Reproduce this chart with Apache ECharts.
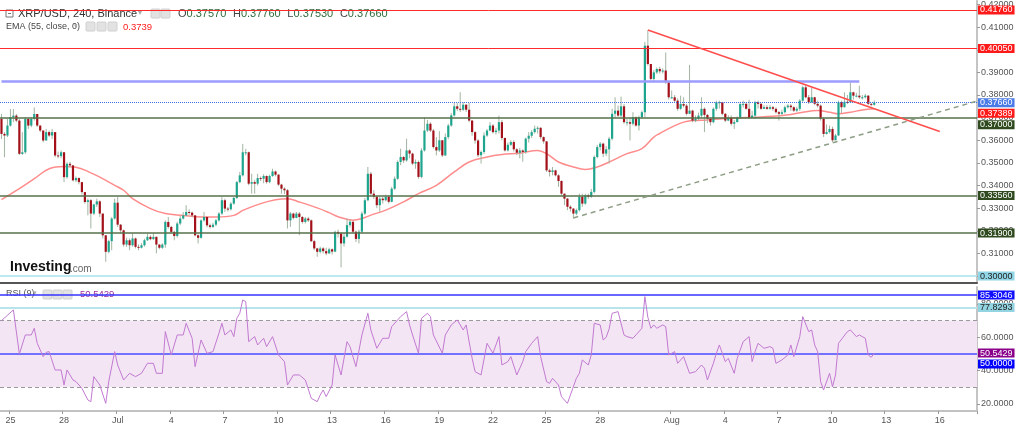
<!DOCTYPE html>
<html><head><meta charset="utf-8">
<script src="https://cdn.jsdelivr.net/npm/echarts/dist/echarts.min.js"></script>
<style>html,body{margin:0;padding:0;background:#fff}#c{width:1024px;height:427px}</style>
</head><body><div id="c"></div>
<script>
// ---- data (prices in units of 0.0001 USD) ----
const firstOpen = 3694;
const closes = [3628,3621,3665,3702,3709,3687,3540,3547,3694,3665,3694,3716,3665,3643,3599,3636,3621,3636,3533,3530,
3547,3437,3496,3489,3423,3433,3415,3371,3327,3335,3276,3316,3330,3276,3180,3107,3154,3254,3324,3227,
3202,3139,3158,3136,3166,3129,3125,3136,3158,3173,3163,3173,3139,3125,3139,3239,3217,3195,3177,3232,
3254,3268,3283,3280,3268,3180,3169,3246,3261,3224,3217,3227,3246,3276,3335,3298,3295,3320,3345,3415,
3445,3547,3547,3408,3415,3408,3433,3430,3442,3415,3442,3462,3448,3404,3386,3379,3246,3276,3257,3276,
3261,3239,3254,3246,3154,3122,3107,3122,3110,3100,3118,3108,3195,3188,3144,3174,3225,3240,3196,3164,
3196,3276,3335,3452,3364,3350,3313,3342,3335,3350,3328,3386,3430,3504,3526,3511,3555,3541,3497,3504,
3438,3555,3643,3673,3643,3570,3555,3600,3533,3614,3665,3710,3750,3739,3735,3757,3735,3687,3636,3599,
3534,3548,3621,3643,3665,3636,3643,3680,3610,3555,3580,3592,3560,3545,3555,3548,3607,3620,3636,3651,
3655,3614,3595,3467,3460,3467,3445,3420,3364,3342,3306,3298,3276,3291,3350,3320,3357,3350,3372,3526,
3570,3585,3541,3560,3607,3717,3731,3709,3750,3680,3680,3673,3702,3665,3702,3724,4018,3937,3871,3900,
3915,3905,3908,3856,3790,3790,3775,3739,3760,3753,3717,3731,3687,3695,3709,3739,3712,3695,3680,3739,
3768,3768,3717,3687,3700,3673,3680,3700,3760,3761,3739,3700,3709,3768,3761,3739,3746,3739,3746,3739,
3724,3717,3724,3746,3753,3746,3731,3739,3775,3834,3790,3768,3790,3761,3753,3695,3628,3636,3650,3600,
3621,3768,3746,3770,3768,3812,3797,3797,3790,3790,3797,3761,3757,3766];
const highs = [3716,3636,3694,3738,3738,3716,3694,3636,3702,3700,3702,3745,3716,3665,3643,3650,3643,3650,3636,3550,
3555,3547,3503,3505,3490,3440,3436,3415,3371,3342,3340,3320,3342,3335,3276,3180,3160,3260,3342,3349,
3230,3205,3170,3166,3188,3170,3140,3145,3165,3188,3180,3188,3175,3140,3145,3246,3261,3222,3200,3240,
3265,3283,3313,3295,3285,3270,3185,3250,3283,3262,3232,3235,3252,3283,3349,3342,3305,3327,3350,3420,
3460,3584,3562,3550,3452,3425,3452,3440,3450,3445,3448,3474,3466,3450,3408,3392,3385,3283,3280,3283,
3283,3265,3261,3261,3250,3160,3125,3130,3128,3125,3125,3122,3200,3205,3192,3190,3254,3250,3240,3200,
3205,3285,3345,3482,3460,3380,3355,3350,3350,3360,3357,3394,3440,3511,3563,3530,3607,3560,3545,3515,
3510,3565,3702,3690,3680,3650,3614,3640,3600,3630,3673,3720,3765,3765,3812,3768,3760,3765,3690,3640,
3605,3555,3635,3650,3680,3672,3655,3709,3690,3612,3590,3600,3600,3565,3565,3560,3612,3636,3645,3665,
3662,3658,3617,3597,3474,3482,3470,3450,3423,3364,3345,3313,3300,3298,3364,3364,3364,3364,3385,3533,
3580,3592,3590,3575,3615,3739,3790,3753,3793,3760,3695,3700,3724,3705,3709,3731,4035,4086,3937,3910,
3922,3925,3918,3988,3860,3820,3800,3785,3797,3790,3760,3933,3735,3710,3722,3790,3745,3716,3700,3745,
3775,3775,3770,3720,3710,3710,3690,3705,3770,3775,3768,3779,3730,3775,3775,3765,3755,3755,3755,3752,
3745,3730,3735,3753,3760,3760,3750,3748,3782,3841,3845,3800,3834,3792,3775,3758,3700,3670,3665,3660,
3628,3775,3775,3812,3800,3856,3815,3810,3841,3800,3805,3800,3765,3776];
const lows = [3606,3525,3614,3660,3680,3680,3535,3535,3540,3650,3658,3687,3658,3636,3591,3599,3614,3606,3525,3520,
3520,3415,3430,3480,3418,3415,3405,3360,3320,3268,3210,3270,3305,3261,3166,3063,3100,3114,3250,3217,
3188,3130,3129,3114,3130,3122,3114,3122,3130,3155,3158,3160,3100,3118,3120,3125,3210,3188,3158,3170,
3225,3250,3265,3270,3260,3175,3144,3165,3240,3215,3210,3212,3220,3240,3270,3283,3285,3290,3315,3340,
3410,3440,3533,3401,3364,3364,3400,3420,3410,3408,3410,3438,3440,3398,3364,3362,3210,3217,3250,3255,
3180,3232,3232,3239,3150,3114,3085,3100,3100,3092,3098,3095,3105,3170,3038,3130,3170,3215,3188,3150,
3144,3190,3270,3330,3355,3340,3300,3284,3320,3330,3320,3326,3380,3425,3490,3500,3505,3520,3490,3474,
3430,3432,3550,3636,3636,3563,3533,3548,3526,3530,3605,3660,3705,3730,3725,3730,3725,3680,3620,3585,
3526,3497,3540,3615,3640,3630,3625,3630,3600,3550,3550,3575,3550,3535,3520,3505,3540,3590,3610,3630,
3630,3605,3585,3460,3440,3445,3440,3394,3357,3313,3291,3284,3254,3269,3285,3306,3315,3340,3345,3365,
3520,3555,3526,3530,3497,3600,3700,3702,3700,3673,3665,3599,3665,3660,3643,3695,3702,3930,3865,3860,
3893,3895,3895,3850,3780,3783,3768,3730,3735,3745,3710,3715,3680,3680,3690,3700,3636,3675,3665,3675,
3730,3740,3710,3680,3684,3665,3650,3680,3695,3745,3735,3695,3700,3695,3740,3735,3738,3735,3735,3730,
3718,3687,3710,3718,3740,3730,3725,3725,3730,3770,3785,3760,3765,3755,3745,3687,3614,3625,3630,3592,
3600,3620,3720,3745,3760,3765,3780,3790,3783,3780,3785,3755,3750,3753];
// EMA(55): [candle index, value]
const emaPoints = [[0,3338],[6,3386],[11,3430],[16,3474],[21,3484],[25,3481],[30,3456],[33,3437],[38,3401],[41,3379],
[44,3342],[50,3298],[55,3276],[61,3268],[67,3261],[72,3261],[78,3268],[81,3290],[87,3320],[92,3337],[96,3342],
[100,3327],[106,3301],[110,3280],[113,3262],[118,3247],[121,3254],[124,3269],[129,3291],[135,3328],[140,3364],
[146,3401],[152,3460],[157,3504],[163,3526],[168,3537],[174,3543],[180,3555],[183,3541],[187,3504],[192,3482],
[196,3471],[200,3482],[204,3504],[210,3541],[215,3563],[219,3614],[221,3630],[225,3658],[229,3680],[232,3687],
[237,3690],[242,3695],[248,3699],[253,3702],[259,3706],[265,3714],[269,3724],[274,3731],[278,3724],[281,3717],
[285,3724],[289,3734],[293,3739]];
// RSI(9): [candle index, value]
const rsiPoints = [[0,70],[4,76.4],[6,50],[8,61.4],[10,61.4],[11,65.4],[12,56.4],[14,48.4],[15,51],[16,51.4],[18,40.4],[20,40.4],
[21,31.4],[22,40.4],[24,34.4],[25,33.4],[27,29.4],[29,22.4],[30,21.4],[31,36.4],[33,31.4],[35,20.4],[36,33.4],[38,51.4],
[39,43.4],[41,34.4],[43,38.4],[45,36.4],[47,38.4],[49,44.4],[51,44.4],[52,38.4],[54,38.4],[55,63.4],[57,49.4],[59,61.4],
[61,61.4],[62,68.4],[64,59.4],[65,42.4],[67,58.4],[69,50.4],[71,51.4],[73,62.4],[74,68.4],[75,61.4],[77,64.4],[78,60.4],
[79,71.4],[80,74.4],[81,82.4],[82,81.4],[83,57.4],[85,60.4],[86,55.4],[88,59.4],[89,54.4],[91,60.4],[93,49.4],[95,45.4],
[96,31.4],[98,37.4],[100,37.4],[102,34.4],[104,23.4],[106,21.4],[107,25.4],[108,28.4],[109,24.4],[111,31.4],[112,49.4],
[114,37.4],[116,57.4],[117,54.4],[119,42.4],[121,61.4],[123,74.4],[124,64.4],[126,53.4],[128,59.4],[130,59.4],[131,66.4],
[134,72.4],[136,75.4],[137,67.4],[138,61.4],[140,50.4],[141,71.4],[143,74.4],[144,72.4],[145,61.4],[148,50.4],[149,61.4],
[151,67.4],[153,70.4],[155,64.4],[156,67.4],[158,47.4],[159,39.4],[161,37.4],[163,56.4],[165,50.4],[167,60.4],[168,43.4],
[170,45.4],[171,48.4],[173,37.4],[175,45.4],[176,51.4],[178,56.4],[180,60.4],[181,48.4],[183,33.4],[184,32.4],[185,35.4],
[187,31.4],[188,24.4],[190,20.4],[191,25.4],[193,35.4],[194,38.4],[195,46.4],[197,43.4],[198,49.4],[199,68.4],[201,67.4],
[202,58.4],[203,60],[204,65],[205,74.4],[207,75.4],[209,61.4],[210,60.4],[212,59.4],[213,61.4],[215,65.4],[216,84.4],
[217,72],[218,65.4],[219,67.4],[220,65.4],[222,67.4],[223,66.4],[224,49.4],[226,51.4],[227,44.4],[229,48.4],[230,43.4],
[231,38.4],[233,39.4],[235,43.4],[236,41.4],[237,34.4],[239,44.4],[240,50.4],[241,55.4],[243,45.4],[244,47.4],[246,38.4],
[247,47.4],[249,57.4],[251,60.4],[252,45.4],[253,51.4],[254,56.4],[256,53.4],[258,54.4],[259,53.4],[260,44.4],[262,46.4],
[264,49.4],[265,55.4],[266,48.4],[268,60.4],[269,72.4],[271,63.4],[272,64.4],[273,55.4],[274,51.4],[275,33.4],[276,28.4],
[278,38.4],[279,30.4],[280,37.4],[281,56.4],[284,63.4],[285,64.4],[287,60.4],[288,61.4],[290,59.4],[291,49.4],[292,48],[293,50.5429]];
// drawn levels and trend lines
const redLevels = [0.4176, 0.4005];
const greenLevels = [0.37, 0.3356, 0.319];
const cyanLevel = 0.30;
const lastPrice = 0.3766;
const emaLast = 0.37389;
const blueResistance = {from: 0, to: 288, value: 0.3863};
const redTrend = [[217, 0.40873], [315, 0.36388]];
const dashedTrend = [[192, 0.32568], [327, 0.37714]];
const rsiBlue = 85.3046, rsiCyan = 77.8293, rsiMid = 50, rsiLast = 50.5429, rsiUpper = 70, rsiLower = 30;
const priceTicks = [0.30,0.31,0.32,0.33,0.34,0.35,0.36,0.37,0.38,0.39,0.40,0.41,0.42];
const rsiTicks = [20,40,60,80];
const dayTicks = ['06-25','06-28','07-01','07-04','07-07','07-10','07-13','07-16','07-19','07-22','07-25','07-28','08-01','08-04','08-07','08-10','08-13','08-16'];
const dayLabels = ['25','28','Jul','4','7','10','13','16','19','22','25','28','Aug','4','7','10','13','16'];

// ---- 4h time slots ----
const startUTC = Date.UTC(2022, 5, 24, 12);
const slotCount = 328;
const categories = [];
for (let k = 0; k < slotCount; k++) {
  categories.push(new Date(startUTC + k * 4 * 3600e3).toISOString().slice(5, 16).replace('T', ' '));
}
const isTick = (idx, val) => val.slice(6) === '00:00' && dayTicks.indexOf(val.slice(0, 5)) >= 0;
const tickText = val => dayLabels[dayTicks.indexOf(val.slice(0, 5))];

const candles = closes.map((c, i) => {
  const o = i === 0 ? firstOpen : closes[i - 1];
  return [i, o / 1e4, c / 1e4, lows[i] / 1e4, highs[i] / 1e4];
});

function renderCandle(params, api) {
  const i = api.value(0);
  const po = api.coord([i, api.value(1)]);
  const pc = api.coord([i, api.value(2)]);
  const pl = api.coord([i, api.value(3)]);
  const ph = api.coord([i, api.value(4)]);
  const x = po[0];
  const up = api.value(2) >= api.value(1);
  const top = Math.min(po[1], pc[1]);
  const h = Math.max(Math.abs(po[1] - pc[1]), 1);
  return {type: 'group', children: [
    {type: 'line', shape: {x1: x, y1: ph[1], x2: x, y2: pl[1]}, style: {stroke: '#a2b4a2', lineWidth: 1}},
    {type: 'rect', shape: {x: x - 1.1, y: top, width: 2.2, height: h}, style: {fill: up ? '#1ea58e' : '#a3101a'}}
  ]};
}

const FONT = 'Liberation Sans, Arial, sans-serif';
const HIDDEN = {color: 'rgba(0,0,0,0)', width: 0, type: 'solid'};
function tagLabel(bg, fg, offY) {
  return {show: true, position: 'end', distance: 1, formatter: p => p.value.toFixed(5),
    backgroundColor: bg, color: fg, fontSize: 9, lineHeight: 9, fontFamily: FONT, padding: [0, 2, 0, 2], offset: [0, offY || 0]};
}
function rsiTag(bg, fg, offY) {
  return {show: true, position: 'end', distance: 1, formatter: p => p.value.toFixed(4),
    backgroundColor: bg, color: fg, fontSize: 9, lineHeight: 9, fontFamily: FONT, padding: [0, 2, 0, 2], offset: [0, offY || 0]};
}

const mainLines = [];
redLevels.forEach(v => mainLines.push({yAxis: v, lineStyle: {color: '#ff2a2a', width: 1, type: 'solid'}, label: tagLabel('#ff1a1a', '#fff')}));
mainLines.push({yAxis: lastPrice, lineStyle: {color: '#3f6fe6', width: 1, type: 'dotted'}, label: tagLabel('#4a7be6', '#fff')});
mainLines.push({yAxis: emaLast, lineStyle: HIDDEN, label: tagLabel('#ff1a1a', '#fff', 4.5)});
greenLevels.forEach((v, k) => mainLines.push({yAxis: v, lineStyle: {color: '#56704a', width: 1.5, type: 'solid'}, label: tagLabel('#2e4a1e', '#fff', k === 0 ? 7 : 0)}));
mainLines.push({yAxis: cyanLevel, lineStyle: {color: '#a6e2ee', width: 1.5, type: 'solid'}, label: tagLabel('#90d6e6', '#222')});
mainLines.push([{coord: [blueResistance.from, blueResistance.value], lineStyle: {color: '#9c9cff', width: 2.5, type: 'solid'}, label: {show: false}},
                {coord: [blueResistance.to, blueResistance.value]}]);

const rsiLines = [
  {yAxis: rsiBlue, lineStyle: {color: '#3434ff', width: 1.5, type: 'solid'}, label: rsiTag('#1010ff', '#fff')},
  {yAxis: rsiCyan, lineStyle: {color: '#b8e4ec', width: 2, type: 'solid'}, label: rsiTag('#92d4e2', '#222')},
  {yAxis: rsiUpper, lineStyle: {color: '#9a9a9a', width: 1, type: [4, 3]}, label: {show: false}},
  {yAxis: rsiLower, lineStyle: {color: '#9a9a9a', width: 1, type: [4, 3]}, label: {show: false}},
  {yAxis: rsiMid, lineStyle: {color: '#7272ff', width: 2, type: 'solid'}, label: rsiTag('#0000ff', '#fff', 10)},
  {yAxis: rsiLast, lineStyle: HIDDEN, label: rsiTag('#8b008b', '#fff')}
];

const icon = (x, y) => ({type: 'rect', shape: {x: x, y: y, width: 9, height: 9, r: 1}, style: {fill: '#e2e2e2', stroke: '#d0d0d0'}});

const option = {
  animation: false,
  backgroundColor: '#fff',
  textStyle: {fontFamily: FONT},
  grid: [
    {left: 0, right: 47, top: 0, height: 283, containLabel: false},
    {left: 0, right: 47, top: 287, height: 124, containLabel: false}
  ],
  xAxis: [
    {type: 'category', gridIndex: 0, data: categories, boundaryGap: true,
     axisLine: {show: true, lineStyle: {color: '#555', width: 2}}, axisTick: {show: false}, axisLabel: {show: false}, splitLine: {show: false}},
    {type: 'category', gridIndex: 1, data: categories, boundaryGap: true,
     axisLine: {show: true, lineStyle: {color: '#c2c2c2', width: 2}},
     axisTick: {show: true, interval: isTick, length: 3, lineStyle: {color: '#999'}},
     axisLabel: {interval: isTick, formatter: tickText, color: '#555', fontSize: 9, margin: 5, fontFamily: FONT}, splitLine: {show: false}}
  ],
  yAxis: [
    {type: 'value', gridIndex: 0, position: 'right', min: 0.296916, max: 0.421586,
     axisLine: {show: true, lineStyle: {color: '#c4c4c4', width: 2}},
     axisTick: {show: true, customValues: priceTicks, length: 3, lineStyle: {color: '#999'}},
     axisLabel: {customValues: priceTicks, formatter: v => v.toFixed(5), color: '#555', fontSize: 9, margin: 4, fontFamily: FONT},
     splitLine: {show: false}},
    {type: 'value', gridIndex: 1, position: 'right', min: 15.8, max: 90.16,
     axisLine: {show: true, lineStyle: {color: '#c4c4c4', width: 2}},
     axisTick: {show: true, customValues: rsiTicks, length: 3, lineStyle: {color: '#999'}},
     axisLabel: {customValues: rsiTicks, formatter: v => v.toFixed(4), color: '#555', fontSize: 9, margin: 4, fontFamily: FONT},
     splitLine: {show: false}}
  ],
  series: [
    {type: 'line', name: 'levels', xAxisIndex: 0, yAxisIndex: 0, data: [], silent: true,
     markLine: {symbol: 'none', silent: true, animation: false, precision: 5, data: mainLines}},
    {type: 'line', name: 'EMA', xAxisIndex: 0, yAxisIndex: 0, data: emaPoints.map(p => [p[0], p[1] / 1e4]),
     smooth: 0.4, showSymbol: false, lineStyle: {color: '#ff8c8c', width: 1.5}, z: 3},
    {type: 'custom', name: 'XRP/USD', xAxisIndex: 0, yAxisIndex: 0, data: candles, renderItem: renderCandle,
     encode: {x: 0, y: [1, 2, 3, 4]}, clip: true, z: 4},
    {type: 'line', name: 'red trend', xAxisIndex: 0, yAxisIndex: 0, data: redTrend, showSymbol: false,
     lineStyle: {color: '#ff4d4d', width: 1.5}, z: 5},
    {type: 'line', name: 'dashed trend', xAxisIndex: 0, yAxisIndex: 0, data: dashedTrend, showSymbol: false,
     lineStyle: {color: '#8e9e86', width: 1.5, type: [5, 4]}, z: 5},
    {type: 'line', name: 'RSI', xAxisIndex: 1, yAxisIndex: 1, data: rsiPoints, showSymbol: false,
     lineStyle: {color: '#c27ad2', width: 1}, z: 5,
     markArea: {silent: true, itemStyle: {color: '#f3e5f3'}, data: [[{yAxis: rsiLower}, {yAxis: rsiUpper}]]},
     markLine: {symbol: 'none', silent: true, animation: false, precision: 4, data: rsiLines}}
  ],
  graphic: [
    {type: 'rect', shape: {x: 6, y: 10, width: 7, height: 7}, style: {fill: '#fff', stroke: '#777', lineWidth: 1}},
    {type: 'line', shape: {x1: 8, y1: 13.5, x2: 11, y2: 13.5}, style: {stroke: '#777', lineWidth: 1}},
    {type: 'text', x: 18, y: 14, style: {text: 'XRP/USD, 240, Binance', font: '11px ' + FONT, fill: '#333', verticalAlign: 'middle'}},
    {type: 'text', x: 138, y: 13, style: {text: '▾', font: '8px DejaVu Sans', fill: '#aaa', verticalAlign: 'middle'}},
    icon(151, 9), icon(161, 9),
    {type: 'text', x: 178, y: 14, style: {
      text: '{l|O}{v|0.37570}  {l|H}{v|0.37760}  {l|L}{v|0.37530}  {l|C}{v|0.37660}',
      verticalAlign: 'middle',
      rich: {l: {font: '11px ' + FONT, fill: '#444'}, v: {font: '11px ' + FONT, fill: '#2f6b3a'}}}},
    {type: 'text', x: 6, y: 27, style: {text: 'EMA (55, close, 0)', font: '9px ' + FONT, fill: '#444', verticalAlign: 'middle'}},
    {type: 'text', x: 74, y: 26, style: {text: '▾', font: '7px DejaVu Sans', fill: '#aaa', verticalAlign: 'middle'}},
    icon(86, 22), icon(97, 22), icon(108, 22),
    {type: 'text', x: 123, y: 27, style: {text: '0.3739', font: '9.5px ' + FONT, fill: '#ff1a1a', verticalAlign: 'middle'}},
    {type: 'text', x: 6, y: 294, style: {text: 'RSI (9)', font: '9px ' + FONT, fill: '#555', verticalAlign: 'middle'}},
    {type: 'text', x: 33, y: 293, style: {text: '▾', font: '7px DejaVu Sans', fill: '#aaa', verticalAlign: 'middle'}},
    icon(43, 290), icon(53, 290), icon(63, 290),
    {type: 'text', x: 80, y: 294, style: {text: '50.5429', font: '9.5px ' + FONT, fill: '#9b2b9b', verticalAlign: 'middle'}},
    {type: 'text', x: 10, y: 267, style: {text: 'Investing', font: 'bold 14px ' + FONT, fill: '#111', verticalAlign: 'middle'}},
    {type: 'text', x: 70, y: 269, style: {text: '.com', font: '10px ' + FONT, fill: '#666', verticalAlign: 'middle'}}
  ]
};

const chart = echarts.init(document.getElementById('c'), null, {renderer: 'canvas', width: 1024, height: 427});
chart.setOption(option);
</script>
</body></html>
